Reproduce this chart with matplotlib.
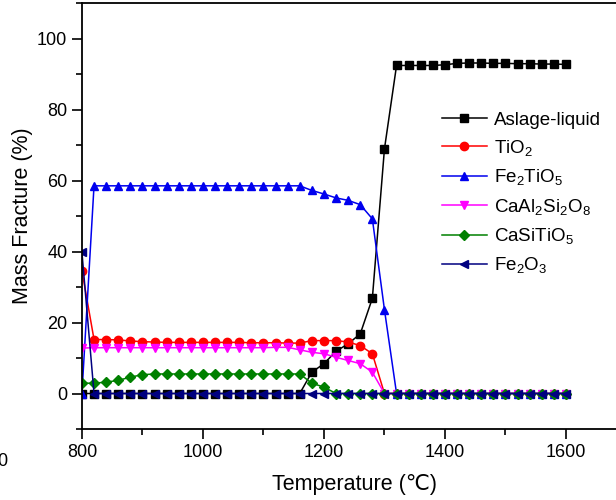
import matplotlib
matplotlib.use('Agg')
import matplotlib.pyplot as plt
from matplotlib.ticker import MultipleLocator

plt.rcParams['font.family'] = ['Liberation Sans', 'DejaVu Sans']
plt.rcParams['mathtext.default'] = 'regular'

# temperatures in degrees C, 20 degree steps
temperatura = list(range(800, 1601, 20))

aslage = [0] * 19 + [6.0, 8.4, 11.9, 14.0, 16.8, 26.8, 68.9,
                     92.4, 92.4, 92.4, 92.4, 92.6, 93.0, 93.1, 93.1,
                     93.0, 93.0, 92.9, 92.9, 92.8, 92.8, 92.7]
tio2 = [34.6, 15.2, 15.2, 15.1, 14.8, 14.6, 14.5, 14.4, 14.4, 14.4,
        14.4, 14.4, 14.4, 14.4, 14.3, 14.3, 14.3, 14.2, 14.2,
        14.9, 14.9, 14.9, 14.5, 13.5, 11.2] + [0] * 16
fe2tio5 = [0] + [58.5] * 18 + [57.2, 56.2, 55.1, 54.4, 53.2, 49.2, 23.6] + [0] * 15
caal2si2o8 = [12.8, 12.9, 12.9, 12.9, 12.9, 12.9, 12.9, 12.9, 12.9, 12.9,
              12.9, 12.9, 12.9, 12.9, 12.9, 12.9, 13.0, 13.0, 12.3,
              11.6, 11.2, 10.2, 9.3, 8.4, 6.0] + [0] * 16
casitio5 = [2.9, 2.9, 3.2, 3.7, 4.6, 5.3, 5.5, 5.5, 5.5, 5.5,
            5.5, 5.5, 5.5, 5.5, 5.5, 5.5, 5.5, 5.5, 5.5,
            2.9, 1.8] + [0] * 20
fe2o3 = [39.8] + [0] * 40

series = [
    (aslage, 'Aslage-liquid', 'black', 's'),
    (tio2, 'TiO$_2$', 'red', 'o'),
    (fe2tio5, 'Fe$_2$TiO$_5$', '#0000ee', '^'),
    (caal2si2o8, 'CaAl$_2$Si$_2$O$_8$', 'magenta', 'v'),
    (casitio5, 'CaSiTiO$_5$', 'green', 'D'),
    (fe2o3, 'Fe$_2$O$_3$', '#000080', '<'),
]

fig = plt.figure(figsize=(6.16, 5.0), dpi=100)
ax = fig.add_axes([0.133, 0.142, 0.884, 0.852])

for valores, nome, cor, marcador in series:
    ms = 5.0 if marcador == 'D' else 6.0
    ax.plot(temperatura, valores, color=cor, marker=marcador, markersize=ms,
            linewidth=1.1, label=nome)

ax.set_xlim(800, 1700)
ax.set_ylim(-10, 110)
ax.xaxis.set_major_locator(MultipleLocator(200))
ax.xaxis.set_minor_locator(MultipleLocator(100))
ax.yaxis.set_major_locator(MultipleLocator(20))
ax.yaxis.set_minor_locator(MultipleLocator(10))
ax.tick_params(which='both', direction='out', labelsize=13, width=1.2)
ax.tick_params(which='major', length=7)
ax.tick_params(which='minor', length=4)
for lado in ax.spines.values():
    lado.set_linewidth(1.3)

ax.set_xlabel('Temperature (℃)', fontsize=15.5, labelpad=10)
ax.set_ylabel('Mass Fracture (%)', fontsize=15.5, labelpad=3)

ax.legend(loc='upper left', bbox_to_anchor=(0.63, 0.785), frameon=False,
          fontsize=13.5, handlelength=2.4, labelspacing=0.5, handletextpad=0.4)

fig.text(0.003, 0.078, '0', fontsize=13, ha='center', va='center')

fig.savefig('out.png', dpi=100)
